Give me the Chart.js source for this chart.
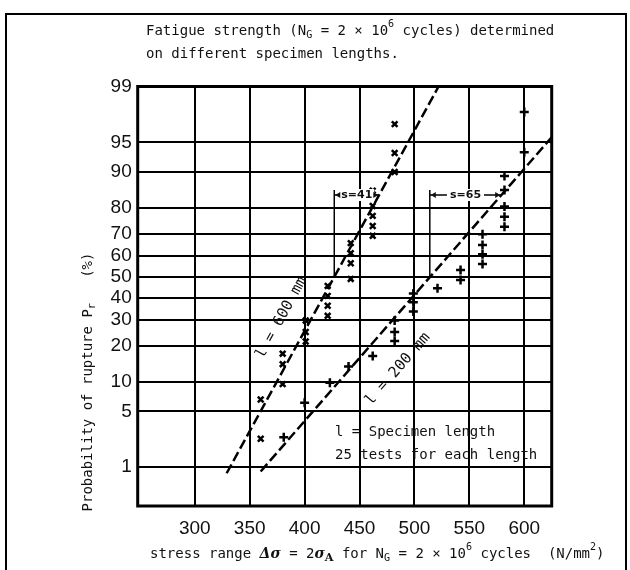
<!DOCTYPE html>
<html lang="en">
<head>
<meta charset="UTF-8">
<title>Fatigue strength on different specimen lengths</title>
<script src="https://cdn.jsdelivr.net/npm/chart.js"></script>
<style>
    body {
        margin: 0;
        background: #ffffff;
    }
    #wrap {
        width: 630px;
        height: 570px;
    }
</style>
</head>
<body>
<div id="wrap"><canvas id="chart" width="630" height="570"></canvas></div>
<script>
// probability levels printed on the y axis (%)
const yTickLabels = [1, 5, 10, 20, 30, 40, 50, 60, 70, 80, 90, 95, 99];
const xTickValues = [300, 350, 400, 450, 500, 550, 600];

// l = 600 mm specimens (x markers)
const stress600 = [360, 360, 380, 380, 380, 401, 401, 401, 421, 421, 421, 421, 442, 442, 442, 442, 462, 462, 462, 462, 462, 482, 482, 482];
const prob600 = [2.4, 6.7, 9.5, 14.3, 17.4, 21.5, 25, 29.7, 31.7, 36.2, 40.8, 45.6, 49, 56.6, 61.4, 66, 69.2, 73.3, 77.2, 80.7, 85.4, 90, 93.5, 96.9];

// l = 200 mm specimens (+ markers)
const stress200 = [381, 400, 423, 440, 462, 482, 482, 482, 499, 499, 499, 521, 542, 542, 562, 562, 562, 562, 582, 582, 582, 582, 582, 600, 600];
const prob200 = [2.5, 6.2, 9.8, 13.7, 16.7, 21.7, 25, 29.7, 33.6, 37.8, 42, 44.5, 48.5, 53.4, 56.3, 60.9, 65.2, 69.9, 73.0, 76.9, 80.5, 85.6, 89.1, 93.6, 97.8];

// fitted lines, end points
const line600Stress = [329, 522];
const line600Prob = [0.82, 99];
const line200Stress = [360, 625];
const line200Prob = [0.87, 95.6];

// mean (50 %) and standard deviation of each line
const sMean = [427, 514];
const sValue = [41, 65];

// inverse normal cdf (Acklam), used for the probability paper axis
function probit(p) {
    const a = [-39.69683028665376, 220.9460984245205, -275.9285104469687, 138.3577518672690, -30.66479806614716, 2.506628277459239];
    const b = [-54.47609879822406, 161.5858368580409, -155.6989798598866, 66.80131188771972, -13.28068155288572];
    const c = [-0.007784894002430293, -0.3223964580411365, -2.400758277161838, -2.549732539343734, 4.374664141464968, 2.938163982698783];
    const d = [0.007784695709041462, 0.3224671290700398, 2.445134137142996, 3.754408661907416];
    const pl = 0.02425;
    let q, r;
    if (p < pl) {
        q = Math.sqrt(-2 * Math.log(p));
        return (((((c[0]*q+c[1])*q+c[2])*q+c[3])*q+c[4])*q+c[5]) / ((((d[0]*q+d[1])*q+d[2])*q+d[3])*q+1);
    }
    if (p > 1 - pl) {
        q = Math.sqrt(-2 * Math.log(1 - p));
        return -(((((c[0]*q+c[1])*q+c[2])*q+c[3])*q+c[4])*q+c[5]) / ((((d[0]*q+d[1])*q+d[2])*q+d[3])*q+1);
    }
    q = p - 0.5;
    r = q * q;
    return (((((a[0]*r+a[1])*r+a[2])*r+a[3])*r+a[4])*r+a[5])*q / (((((b[0]*r+b[1])*r+b[2])*r+b[3])*r+b[4])*r+1);
}

function toPoints(xs, ps) {
    return xs.map((x, i) => ({ x: x, y: probit(ps[i] / 100) }));
}

const MONO = '"DejaVu Sans Mono", monospace';
const TXT = '#111';
const FS = 14;

// text pieces; mode: '' normal, 'sub', 'sup', 'gr' (greek italic), 'subb' (bold subscript)
function fontFor(m, size) {
    if (m === 'sub' || m === 'sup') return (size * 0.72) + 'px ' + MONO;
    if (m === 'subb') return 'bold ' + (size * 0.8) + 'px "DejaVu Serif"';
    if (m === 'gr') return 'italic bold ' + size + 'px "DejaVu Serif"';
    return size + 'px ' + MONO;
}
function richWidth(ctx, parts, size) {
    let w = 0;
    parts.forEach(([t, m]) => {
        ctx.font = fontFor(m, size);
        w += ctx.measureText(t).width;
    });
    return w;
}
function drawRich(ctx, parts, x, y, size) {
    let cx = x;
    ctx.textAlign = 'left';
    ctx.textBaseline = 'middle';
    parts.forEach(([t, m]) => {
        ctx.font = fontFor(m, size);
        let dy = 0;
        if (m === 'sub' || m === 'subb') dy = size * 0.3;
        if (m === 'sup') dy = -size * 0.45;
        ctx.fillText(t, cx, y + dy);
        cx += ctx.measureText(t).width;
    });
}

const titleLine1 = [['Fatigue strength (N', ''], ['G', 'sub'], [' = 2 \u00d7 10', ''], ['6', 'sup'], [' cycles) determined', '']];
const titleLine2 = [['on different specimen lengths.', '']];
const xTitle = [['stress range ', ''], ['\u0394\u03c3', 'gr'], [' = 2', ''], ['\u03c3', 'gr'], ['A', 'subb'], [' for N', ''], ['G', 'sub'],
    [' = 2 \u00d7 10', ''], ['6', 'sup'], [' cycles  (N/mm', ''], ['2', 'sup'], [')', '']];
const yTitle = [['Probability of rupture P', ''], ['r', 'sub'], ['   (%)', '']];

const decor = {
    id: 'decor',
    afterDatasetsDraw(chart) {
        const ctx = chart.ctx;
        const xs = chart.scales.x, ys = chart.scales.y;
        const area = chart.chartArea;
        ctx.save();

        // outer frame of the figure
        ctx.strokeStyle = '#000';
        ctx.lineWidth = 2;
        ctx.strokeRect(6, 14, 620, 600);

        // plot frame
        ctx.lineWidth = 3;
        ctx.strokeRect(area.left, area.top, area.right - area.left, area.bottom - area.top);

        ctx.fillStyle = TXT;
        drawRich(ctx, titleLine1, 146, 31, FS);
        drawRich(ctx, titleLine2, 146, 54, FS);

        // x axis title
        drawRich(ctx, xTitle, 150, 554, FS);

        // y axis title
        ctx.save();
        ctx.translate(88, 382);
        ctx.rotate(-Math.PI / 2);
        const yw = richWidth(ctx, yTitle, FS);
        drawRich(ctx, yTitle, -yw / 2, 0, FS);
        ctx.restore();

        // labels along the fitted lines
        const lineLabel = (txt, sx, sy, px, py) => {
            const x1 = xs.getPixelForValue(sx[0]), y1 = ys.getPixelForValue(probit(sy[0] / 100));
            const x2 = xs.getPixelForValue(sx[1]), y2 = ys.getPixelForValue(probit(sy[1] / 100));
            const ang = Math.atan2(y2 - y1, x2 - x1);
            ctx.save();
            ctx.translate(xs.getPixelForValue(px), ys.getPixelForValue(probit(py / 100)));
            ctx.rotate(ang);
            ctx.font = '15px ' + MONO;
            ctx.textAlign = 'center';
            ctx.textBaseline = 'middle';
            ctx.fillText(txt, 0, 0);
            ctx.restore();
        };
        lineLabel('l = 600 mm', line600Stress, line600Prob, 379, 31);
        lineLabel('l = 200 mm', line200Stress, line200Prob, 485, 13);

        // note
        ctx.font = FS + 'px ' + MONO;
        ctx.textAlign = 'left';
        ctx.textBaseline = 'middle';
        ctx.fillText('l = Specimen length', 335, 432);
        ctx.fillText('25 tests for each length', 335, 455);

        // standard deviation markers
        sMean.forEach((m, i) => {
            const x0 = xs.getPixelForValue(m);
            const x1 = xs.getPixelForValue(m + sValue[i]);
            const yS = ys.getPixelForValue(1);
            const yM = ys.getPixelForValue(0);
            ctx.strokeStyle = '#000';
            ctx.lineWidth = 1.5;
            ctx.beginPath();
            ctx.moveTo(x0, yS - 5);
            ctx.lineTo(x0, yM);
            ctx.stroke();
            const label = 's=' + sValue[i];
            ctx.font = 'bold 11px "DejaVu Sans"';
            const tw = ctx.measureText(label).width;
            const mid = (x0 + x1) / 2;
            ctx.fillStyle = '#fff';
            ctx.fillRect(mid - tw / 2 - 2, yS - 6, tw + 4, 12);
            ctx.fillStyle = TXT;
            ctx.textAlign = 'center';
            ctx.fillText(label, mid, yS);
            ctx.beginPath();
            ctx.moveTo(x0, yS);
            ctx.lineTo(mid - tw / 2 - 3, yS);
            ctx.moveTo(mid + tw / 2 + 3, yS);
            ctx.lineTo(x1, yS);
            ctx.stroke();
            ctx.beginPath();
            ctx.moveTo(x0 + 1, yS);
            ctx.lineTo(x0 + 6, yS - 3);
            ctx.lineTo(x0 + 6, yS + 3);
            ctx.closePath();
            ctx.moveTo(x1 - 1, yS);
            ctx.lineTo(x1 - 6, yS - 3);
            ctx.lineTo(x1 - 6, yS + 3);
            ctx.closePath();
            ctx.fill();
        });

        ctx.restore();
    }
};

const dashed = {
    showLine: true,
    borderColor: '#000',
    borderWidth: 2.5,
    borderDash: [10, 4],
    pointRadius: 0
};

new Chart(document.getElementById('chart').getContext('2d'), {
    type: 'scatter',
    data: {
        datasets: [
            Object.assign({ data: toPoints(line600Stress, line600Prob) }, dashed),
            Object.assign({ data: toPoints(line200Stress, line200Prob) }, dashed),
            {
                data: toPoints(stress600, prob600),
                pointStyle: 'crossRot',
                pointRadius: 4,
                borderColor: '#000',
                borderWidth: 2.5
            },
            {
                data: toPoints(stress200, prob200),
                pointStyle: 'cross',
                pointRadius: 4.5,
                borderColor: '#000',
                borderWidth: 2.5
            }
        ]
    },
    options: {
        responsive: false,
        animation: false,
        layout: { padding: { top: 86.5, right: 78.3, left: 0, bottom: 0 } },
        plugins: { legend: { display: false }, tooltip: { enabled: false } },
        scales: {
            x: {
                type: 'linear',
                min: 248,
                max: 625,
                afterBuildTicks: (scale) => { scale.ticks = xTickValues.map(v => ({ value: v })); },
                afterFit: (scale) => { scale.height = 64; },
                grid: { color: '#000', lineWidth: 2, drawTicks: false },
                border: { display: false },
                ticks: { color: TXT, padding: 11, font: { family: 'Liberation Sans', size: 19 } }
            },
            y: {
                type: 'linear',
                min: -2.8,
                max: probit(0.99),
                afterBuildTicks: (scale) => { scale.ticks = yTickLabels.map(p => ({ value: probit(p / 100) })); },
                afterFit: (scale) => { scale.width = 137.7; },
                grid: { color: '#000', lineWidth: 2, drawTicks: false },
                border: { display: false },
                ticks: {
                    color: TXT,
                    padding: 6,
                    font: { family: 'Liberation Sans', size: 19 },
                    callback: (value, index) => yTickLabels[index]
                }
            }
        }
    },
    plugins: [decor]
});
</script>
</body>
</html>
